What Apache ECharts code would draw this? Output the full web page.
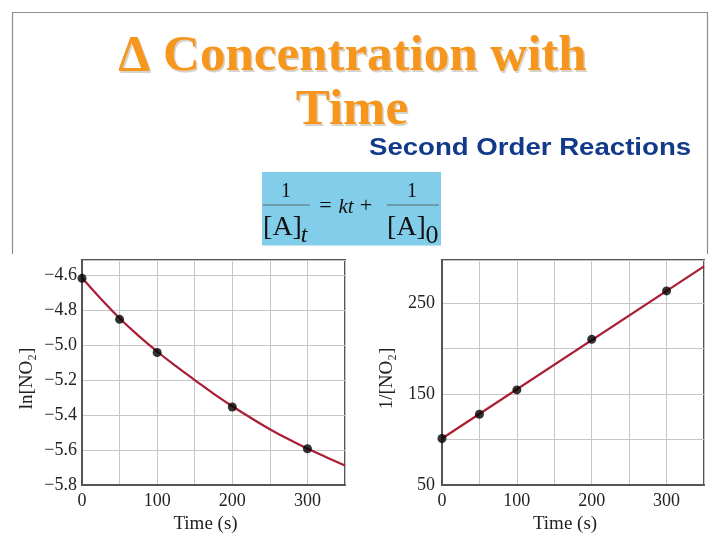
<!DOCTYPE html>
<html>
<head>
<meta charset="utf-8">
<script src="https://cdn.jsdelivr.net/npm/echarts@6/dist/echarts.min.js"></script>
<style>
html,body{margin:0;padding:0;background:#fff;}
#c{width:720px;height:540px;}
</style>
</head>
<body>
<div id="c"></div>
<script>
// ---- data ----
const times = [0, 50, 100, 200, 300];
const lnNO2 = [-4.619, -4.853, -5.043, -5.354, -5.593];
const invNO2 = [101, 127.7, 154.4, 209.9, 263.1];
const curveTimes = [0, 25, 50, 75, 100, 125, 150, 175, 200, 225, 250, 275, 300, 325, 350];
const lnCurve = [-4.615, -4.735, -4.847, -4.946, -5.037, -5.121, -5.200, -5.278, -5.350, -5.417, -5.481, -5.539, -5.592, -5.641, -5.688];
const fitTimes = [0, 350];
const invFit = [101, 290];
const xTickLabels = [0, 100, 200, 300];
const lnTickLabels = [-4.6, -4.8, -5.0, -5.2, -5.4, -5.6, -5.8];
const invTickLabels = [50, 150, 250];

const pairs = (xs, ys) => xs.map((x, i) => [x, ys[i]]);
const SERIF = '"Liberation Serif", "Times New Roman", serif';
const lineColor = '#A91E35';
const borderColor = '#555';
const gridColor = '#c6c6c6';
const labelColor = '#222';

const chart = echarts.init(document.getElementById('c'));

function xAxisCfg(gi) {
  return {
    type: 'value', gridIndex: gi, min: 0, max: 350, interval: 50,
    name: 'Time (s)', nameLocation: 'middle', nameGap: 30,
    nameTextStyle: { fontFamily: SERIF, fontSize: 19, color: labelColor, padding: [0, 16, 0, 0] },
    axisLine: { show: true, lineStyle: { color: borderColor, width: 2 } },
    axisTick: { show: false },
    axisLabel: {
      margin: 7, fontFamily: SERIF, fontSize: 18, color: labelColor,
      formatter: v => xTickLabels.indexOf(Math.round(v)) >= 0 ? String(Math.round(v)) : ''
    },
    splitLine: { show: true, lineStyle: { color: gridColor, width: 1 } }
  };
}

const option = {
  backgroundColor: '#fff',
  animation: false,
  grid: [
    { left: 82, top: 260, width: 263, height: 225, show: true, borderColor: borderColor, borderWidth: 2, backgroundColor: 'transparent' },
    { left: 442, top: 260, width: 262, height: 225, show: true, borderColor: borderColor, borderWidth: 2, backgroundColor: 'transparent' }
  ],
  xAxis: [xAxisCfg(0), xAxisCfg(1)],
  yAxis: [
    {
      type: 'value', gridIndex: 0, min: -5.8, max: -4.514, interval: 0.2,
      name: 'ln[NO₂]', nameLocation: 'middle', nameGap: 45,
      nameTextStyle: { fontFamily: SERIF, fontSize: 19, color: labelColor, padding: [0, 12, 0, 0] },
      axisLine: { show: true, lineStyle: { color: borderColor, width: 2 } },
      axisTick: { show: false },
      axisLabel: {
        margin: 5, fontFamily: SERIF, fontSize: 18, color: labelColor, showMaxLabel: false,
        formatter: v => {
          const hit = lnTickLabels.find(t => Math.abs(t - v) < 1e-6);
          return hit === undefined ? '' : '\u2212' + Math.abs(hit).toFixed(1);
        }
      },
      splitLine: { show: true, lineStyle: { color: gridColor, width: 1 } }
    },
    {
      type: 'value', gridIndex: 1, min: 50, max: 297, interval: 50,
      name: '1/[NO₂]', nameLocation: 'middle', nameGap: 45,
      nameTextStyle: { fontFamily: SERIF, fontSize: 19, color: labelColor, padding: [0, 12, 0, 0] },
      axisLine: { show: true, lineStyle: { color: borderColor, width: 2 } },
      axisTick: { show: false },
      axisLabel: {
        margin: 7, fontFamily: SERIF, fontSize: 18, color: labelColor, showMaxLabel: false,
        formatter: v => invTickLabels.indexOf(Math.round(v)) >= 0 ? String(Math.round(v)) : ''
      },
      splitLine: { show: true, lineStyle: { color: gridColor, width: 1 } }
    }
  ],
  series: [
    {
      type: 'line', xAxisIndex: 0, yAxisIndex: 0, data: pairs(curveTimes, lnCurve),
      smooth: true, showSymbol: false, lineStyle: { color: lineColor, width: 2.2 }, z: 3
    },
    {
      type: 'scatter', xAxisIndex: 0, yAxisIndex: 0, data: pairs(times, lnNO2),
      symbolSize: 9, itemStyle: { color: '#000' }, z: 4
    },
    {
      type: 'line', xAxisIndex: 1, yAxisIndex: 1, data: pairs(fitTimes, invFit),
      showSymbol: false, lineStyle: { color: lineColor, width: 2.2 }, z: 3
    },
    {
      type: 'scatter', xAxisIndex: 1, yAxisIndex: 1, data: pairs(times, invNO2),
      symbolSize: 9, itemStyle: { color: '#000' }, z: 4
    }
  ],
  graphic: [
    // slide frame
    { type: 'polyline', shape: { points: [[12.5, 254], [12.5, 12.5], [707.5, 12.5], [707.5, 254]] }, style: { stroke: '#8a9191', lineWidth: 1.2, fill: null }, z: 0 },
    // title shadow + title
    { type: 'text', style: { x: 354, y: 59, text: '\u0394 Concentration with', font: 'bold 51px ' + SERIF, fill: '#d9d2c8', align: 'center', verticalAlign: 'middle' }, z: 1 },
    { type: 'text', style: { x: 352.5, y: 57, text: '\u0394 Concentration with', font: 'bold 51px ' + SERIF, fill: '#F7961C', align: 'center', verticalAlign: 'middle' }, z: 2 },
    { type: 'text', style: { x: 353.5, y: 112.5, text: 'Time', font: 'bold 51px ' + SERIF, fill: '#d9d2c8', align: 'center', verticalAlign: 'middle' }, z: 1 },
    { type: 'text', style: { x: 352, y: 110.5, text: 'Time', font: 'bold 51px ' + SERIF, fill: '#F7961C', align: 'center', verticalAlign: 'middle' }, z: 2 },
    // subtitle
    { type: 'text', x: 369, y: 148.5, scaleX: 1.2, style: { x: 0, y: 0, text: 'Second Order Reactions', font: 'bold 23px "Liberation Sans", Arial, sans-serif', fill: '#123A8A', align: 'left', verticalAlign: 'middle' }, z: 2 },
    // equation box
    { type: 'rect', shape: { x: 262, y: 172, width: 179, height: 73.5 }, style: { fill: '#82CDEA' }, z: 1 },
    { type: 'text', style: { x: 286, y: 191.5, text: '1', font: '20px ' + SERIF, fill: '#111', align: 'center', verticalAlign: 'middle' }, z: 2 },
    { type: 'line', shape: { x1: 263, y1: 205, x2: 310, y2: 205 }, style: { stroke: '#5a6a70', lineWidth: 1 }, z: 2 },
    { type: 'text', style: { x: 282.5, y: 227.5, text: '[A]', font: '28px ' + SERIF, fill: '#111', align: 'center', verticalAlign: 'middle' }, z: 2 },
    { type: 'text', style: { x: 304, y: 236, text: 't', font: 'italic 24px ' + SERIF, fill: '#111', align: 'center', verticalAlign: 'middle' }, z: 2 },
    { type: 'text', style: { x: 325.5, y: 206, text: '=', font: '22px ' + SERIF, fill: '#111', align: 'center', verticalAlign: 'middle' }, z: 2 },
    { type: 'text', style: { x: 346, y: 207, text: 'kt', font: 'italic 21px ' + SERIF, fill: '#111', align: 'center', verticalAlign: 'middle' }, z: 2 },
    { type: 'text', style: { x: 366, y: 206, text: '+', font: '22px ' + SERIF, fill: '#111', align: 'center', verticalAlign: 'middle' }, z: 2 },
    { type: 'text', style: { x: 412, y: 191.5, text: '1', font: '20px ' + SERIF, fill: '#111', align: 'center', verticalAlign: 'middle' }, z: 2 },
    { type: 'line', shape: { x1: 387, y1: 205, x2: 439, y2: 205 }, style: { stroke: '#5a6a70', lineWidth: 1 }, z: 2 },
    { type: 'text', style: { x: 406.5, y: 227.5, text: '[A]', font: '28px ' + SERIF, fill: '#111', align: 'center', verticalAlign: 'middle' }, z: 2 },
    { type: 'text', style: { x: 432, y: 236, text: '0', font: '26px ' + SERIF, fill: '#111', align: 'center', verticalAlign: 'middle' }, z: 2 }
  ]
};
chart.setOption(option);
</script>
</body>
</html>
